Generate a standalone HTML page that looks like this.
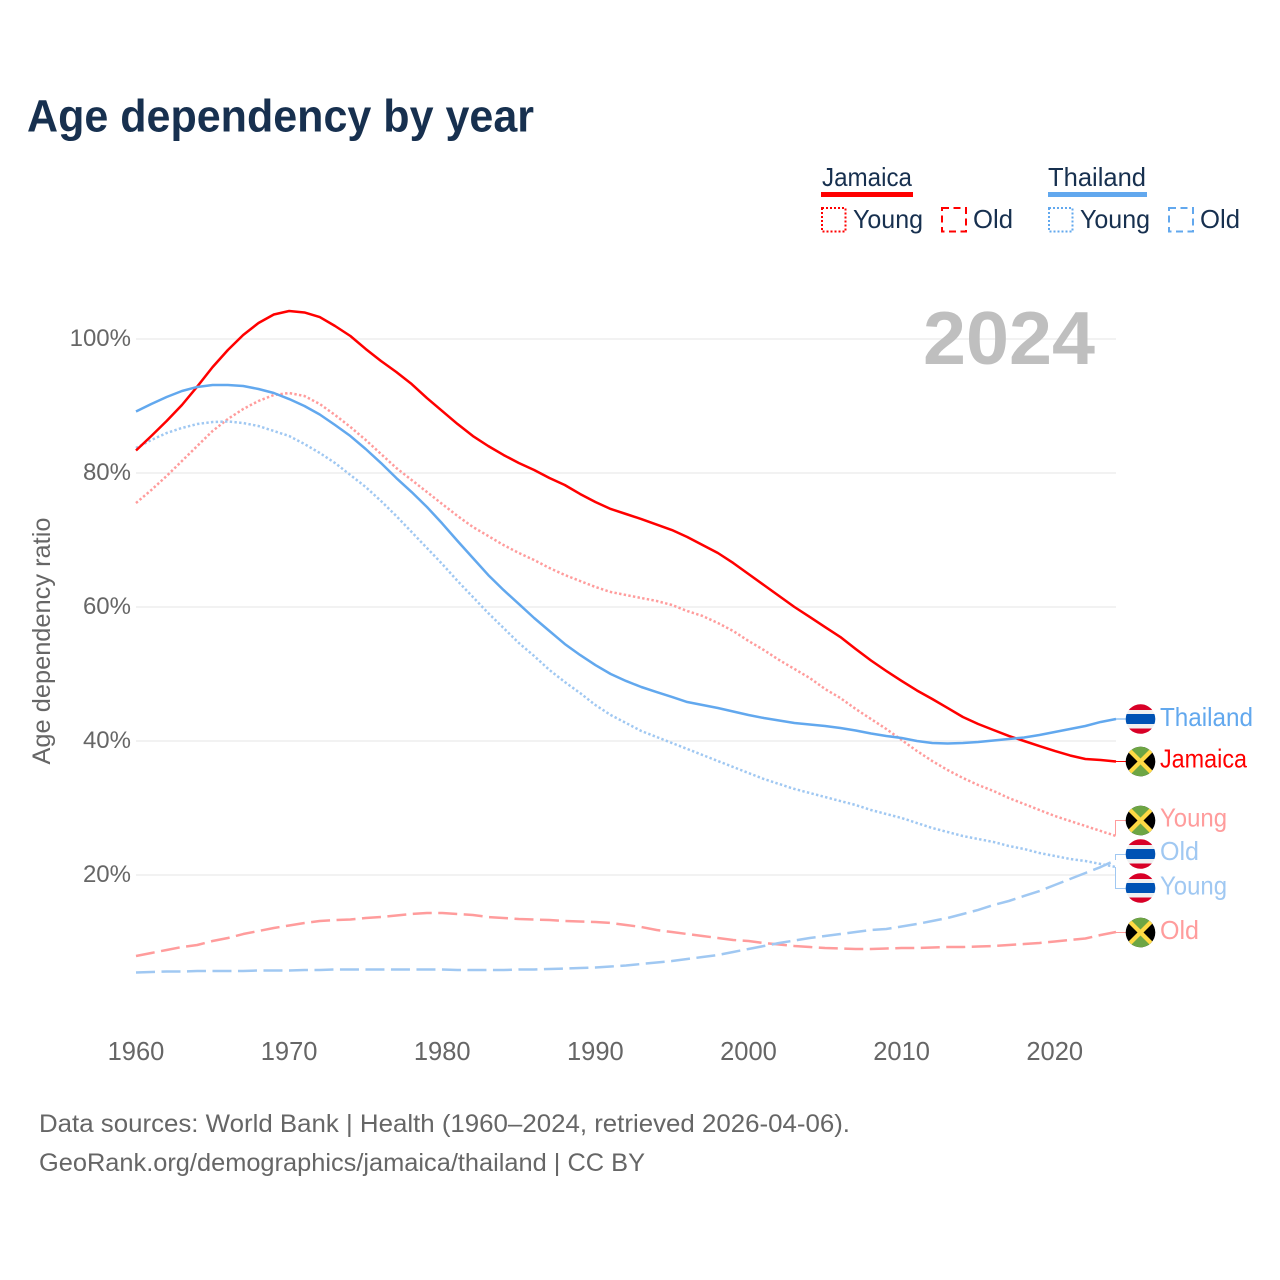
<!DOCTYPE html>
<html lang="en">
<head>
<meta charset="utf-8">
<title>Age dependency by year</title>
<style>
html,body{margin:0;padding:0;background:#fff;width:1280px;height:1280px;overflow:hidden}
svg{display:block}
text{font-family:"Liberation Sans",sans-serif}
</style>
</head>
<body>
<svg id="chart" xmlns="http://www.w3.org/2000/svg" width="1280" height="1280" viewBox="0 0 1280 1280">
  <rect width="1280" height="1280" fill="#fff"/>
  <text x="27" y="131.5" font-size="45" font-weight="700" fill="#17304f" textLength="507" lengthAdjust="spacingAndGlyphs">Age dependency by year</text>

  <g font-size="26" fill="#17304f">
    <text x="822" y="186" textLength="90" lengthAdjust="spacingAndGlyphs">Jamaica</text>
    <rect x="821" y="192" width="92" height="5" fill="#ff0000"/>
    <rect x="822" y="208" width="23.5" height="23.5" fill="none" stroke="#ff0000" stroke-width="2" stroke-dasharray="2 2"/>
    <text x="853" y="228" textLength="70" lengthAdjust="spacingAndGlyphs">Young</text>
    <rect x="942" y="208" width="24" height="23.5" fill="none" stroke="#ff0000" stroke-width="2" stroke-dasharray="7 4.5"/>
    <text x="973" y="228" textLength="40" lengthAdjust="spacingAndGlyphs">Old</text>
    <text x="1048" y="186" textLength="98" lengthAdjust="spacingAndGlyphs">Thailand</text>
    <rect x="1048" y="192" width="99" height="5" fill="#62a8ee"/>
    <rect x="1049" y="208" width="23.5" height="23.5" fill="none" stroke="#62a8ee" stroke-width="2" stroke-dasharray="2 2"/>
    <text x="1080" y="228" textLength="70" lengthAdjust="spacingAndGlyphs">Young</text>
    <rect x="1169" y="208" width="24" height="23.5" fill="none" stroke="#62a8ee" stroke-width="2" stroke-dasharray="7 4.5"/>
    <text x="1200" y="228" textLength="40" lengthAdjust="spacingAndGlyphs">Old</text>
  </g>

  <g id="grid"></g>
  <g id="yticks"></g>
  <g id="xticks"></g>
  <text transform="translate(50 641) rotate(-90)" text-anchor="middle" font-size="25" fill="#666" textLength="247" lengthAdjust="spacingAndGlyphs">Age dependency ratio</text>
  <text x="923" y="364" font-size="75" font-weight="700" fill="#bfbfbf" textLength="172" lengthAdjust="spacingAndGlyphs">2024</text>

  <g id="series"></g>

  <g fill="none" stroke-width="1">
    <path d="M1116 719H1126" stroke="#62a8ee"/>
    <path d="M1116 761.5H1126" stroke="#ff0000"/>
    <path d="M1114.5 836L1115.5 835V820.5H1126" stroke="#ff9c9c"/>
    <path d="M1115.5 860V854.5H1126" stroke="#a0c8f2"/>
    <path d="M1115.5 867V888.5H1126" stroke="#a0c8f2"/>
    <path d="M1116 932.5H1126" stroke="#ff9c9c"/>
  </g>

  <defs>
    <clipPath id="flagClip"><circle cx="0" cy="0" r="14.8"/></clipPath>
    <g id="flag-th" clip-path="url(#flagClip)">
      <rect x="-15" y="-15" width="30" height="30" fill="#f0f0f0"/>
      <rect x="-15" y="-15" width="30" height="6" fill="#d80027"/>
      <rect x="-15" y="9.5" width="30" height="6" fill="#d80027"/>
      <rect x="-15" y="-5" width="30" height="10" fill="#0052b4"/>
    </g>
    <g id="flag-jm" clip-path="url(#flagClip)">
      <rect x="-15" y="-15" width="30" height="30" fill="#000"/>
      <polygon points="-15,-15 15,-15 0,0" fill="#6da544"/>
      <polygon points="-15,15 15,15 0,0" fill="#6da544"/>
      <path d="M-11 -11L11 11M11 -11L-11 11" stroke="#ffda44" stroke-width="4.2"/>
    </g>
  </defs>
  <g>
    <use href="#flag-th" x="1140.5" y="719"/>
    <use href="#flag-jm" x="1140.5" y="761.5"/>
    <use href="#flag-jm" x="1140.5" y="820.5"/>
    <use href="#flag-th" x="1140.5" y="854"/>
    <use href="#flag-th" x="1140.5" y="888"/>
    <use href="#flag-jm" x="1140.5" y="932.5"/>
  </g>
  <g font-size="26">
    <text x="1160" y="726" fill="#62a8ee" textLength="93" lengthAdjust="spacingAndGlyphs">Thailand</text>
    <text x="1160" y="767.5" fill="#ff0000" textLength="87" lengthAdjust="spacingAndGlyphs">Jamaica</text>
    <text x="1160" y="826.5" fill="#ff9c9c" textLength="67" lengthAdjust="spacingAndGlyphs">Young</text>
    <text x="1160" y="860" fill="#a0c8f2" textLength="39" lengthAdjust="spacingAndGlyphs">Old</text>
    <text x="1160" y="894.5" fill="#a0c8f2" textLength="67" lengthAdjust="spacingAndGlyphs">Young</text>
    <text x="1160" y="939" fill="#ff9c9c" textLength="39" lengthAdjust="spacingAndGlyphs">Old</text>
  </g>

  <text x="39" y="1132" font-size="25" fill="#666" textLength="811" lengthAdjust="spacingAndGlyphs">Data sources: World Bank | Health (1960–2024, retrieved 2026-04-06).</text>
  <text x="39" y="1171" font-size="25" fill="#666" textLength="606" lengthAdjust="spacingAndGlyphs">GeoRank.org/demographics/jamaica/thailand | CC BY</text>
</svg>
<script>
const startYear = 1960;
const endYear = 2024;
const xTickLabels = [1960, 1970, 1980, 1990, 2000, 2010, 2020];
const yTickLabels = [20, 40, 60, 80, 100];

const jamaicaTotal = [83.36,85.52,87.76,90.15,92.9,95.8,98.36,100.6,102.39,103.66,104.18,103.96,103.28,101.94,100.45,98.51,96.72,95.07,93.28,91.19,89.25,87.31,85.52,84.03,82.69,81.49,80.45,79.25,78.21,76.87,75.67,74.63,73.88,73.13,72.31,71.49,70.45,69.25,68.06,66.57,64.93,63.28,61.64,60.0,58.51,57.01,55.52,53.73,52.01,50.45,48.96,47.54,46.27,44.93,43.58,42.54,41.64,40.75,40.0,39.25,38.51,37.84,37.31,37.16,36.94];
const thailandTotal = [89.18,90.3,91.34,92.24,92.84,93.13,93.13,92.99,92.54,91.94,91.04,90.0,88.73,87.16,85.52,83.58,81.49,79.25,77.16,74.93,72.46,69.85,67.31,64.78,62.54,60.45,58.36,56.42,54.48,52.84,51.34,50.0,48.96,48.06,47.31,46.57,45.82,45.37,44.93,44.4,43.88,43.43,43.06,42.69,42.46,42.24,41.94,41.57,41.12,40.75,40.45,40.0,39.7,39.63,39.7,39.85,40.07,40.3,40.52,40.9,41.34,41.79,42.24,42.84,43.28];
const jamaicaYoung = [75.52,77.46,79.55,81.79,84.03,86.27,88.06,89.55,90.75,91.64,91.94,91.49,90.3,88.66,86.87,84.93,82.84,80.75,78.96,77.16,75.37,73.58,71.94,70.6,69.25,68.06,67.01,65.82,64.78,63.88,62.99,62.24,61.79,61.34,60.9,60.3,59.4,58.66,57.61,56.42,54.93,53.58,52.09,50.75,49.4,47.76,46.42,44.78,43.28,41.79,40.15,38.51,37.01,35.67,34.48,33.43,32.54,31.49,30.6,29.7,28.81,28.06,27.31,26.57,25.82];
const thailandYoung = [83.73,84.93,85.97,86.72,87.31,87.61,87.69,87.46,87.01,86.27,85.52,84.33,82.99,81.49,79.7,77.91,75.82,73.58,71.19,68.81,66.42,63.88,61.49,59.1,56.87,54.63,52.69,50.6,48.81,47.16,45.37,43.88,42.69,41.49,40.6,39.7,38.81,37.91,37.01,36.12,35.22,34.33,33.58,32.84,32.24,31.64,31.04,30.45,29.7,29.1,28.51,27.76,27.01,26.42,25.82,25.37,24.93,24.33,23.88,23.28,22.84,22.39,22.09,21.64,21.19];
const jamaicaOld = [7.91,8.36,8.81,9.25,9.55,10.15,10.6,11.19,11.64,12.09,12.46,12.84,13.13,13.28,13.36,13.58,13.73,13.96,14.18,14.33,14.33,14.18,14.03,13.73,13.58,13.43,13.36,13.28,13.13,13.06,12.99,12.84,12.54,12.24,11.79,11.49,11.19,10.9,10.6,10.3,10.15,9.85,9.63,9.4,9.25,9.1,9.03,8.96,8.96,9.03,9.1,9.1,9.18,9.25,9.25,9.33,9.4,9.55,9.7,9.85,10.07,10.3,10.52,11.04,11.49];
const thailandOld = [5.45,5.52,5.6,5.6,5.67,5.67,5.67,5.67,5.75,5.75,5.75,5.82,5.82,5.9,5.9,5.9,5.9,5.9,5.9,5.9,5.9,5.82,5.82,5.82,5.82,5.9,5.9,5.97,6.04,6.12,6.19,6.34,6.49,6.72,6.94,7.16,7.46,7.76,8.06,8.51,8.96,9.4,9.85,10.22,10.6,10.9,11.19,11.49,11.79,11.94,12.31,12.69,13.13,13.58,14.18,14.78,15.52,16.12,16.87,17.61,18.51,19.4,20.3,21.19,22.24];

const SVG_NS = 'http://www.w3.org/2000/svg';
const xLeft = 136, xRight = 1116;
function xScale(year) { return xLeft + (year - startYear) * (xRight - xLeft) / (endYear - startYear); }
function yScale(v) { return 1009 - 6.7 * v; }

const gridGroup = document.getElementById('grid');
const yTickGroup = document.getElementById('yticks');
const xTickGroup = document.getElementById('xticks');
const seriesGroup = document.getElementById('series');

yTickLabels.forEach(function (v) {
  const line = document.createElementNS(SVG_NS, 'line');
  line.setAttribute('x1', xLeft);
  line.setAttribute('x2', xRight);
  line.setAttribute('y1', yScale(v));
  line.setAttribute('y2', yScale(v));
  line.setAttribute('stroke', '#eeeeee');
  line.setAttribute('stroke-width', '1.5');
  
  
  gridGroup.appendChild(line);
  const label = document.createElementNS(SVG_NS, 'text');
  label.setAttribute('x', 131);
  label.setAttribute('y', yScale(v) + 7);
  label.setAttribute('text-anchor', 'end');
  label.setAttribute('font-size', '24');
  label.setAttribute('fill', '#666666');
  
  
  label.textContent = v + '%';
  yTickGroup.appendChild(label);
});

xTickLabels.forEach(function (year) {
  const label = document.createElementNS(SVG_NS, 'text');
  label.setAttribute('x', xScale(year));
  label.setAttribute('y', 1060);
  label.setAttribute('text-anchor', 'middle');
  label.setAttribute('font-size', '25.5');
  label.setAttribute('fill', '#666666');
  
  
  label.textContent = year;
  xTickGroup.appendChild(label);
});

function drawLine(values, color, dash, name) {
  const path = document.createElementNS(SVG_NS, 'path');
  const d = values.map(function (v, i) {
    return (i ? 'L' : 'M') + xScale(startYear + i).toFixed(2) + ' ' + yScale(v).toFixed(2);
  }).join('');
  path.setAttribute('d', d);
  path.setAttribute('fill', 'none');
  path.setAttribute('stroke', color);
  path.setAttribute('stroke-width', '2.5');
  path.setAttribute('stroke-linejoin', 'round');
  if (dash) path.setAttribute('stroke-dasharray', dash);
  
  
  seriesGroup.appendChild(path);
}

const dotted = '2.4 2.3';
const dashed = '19 6.5';
drawLine(jamaicaOld, '#ff9c9c', dashed, 'line-jamaica-old');
drawLine(thailandOld, '#a0c8f2', dashed, 'line-thailand-old');
drawLine(jamaicaYoung, '#ff9c9c', dotted, 'line-jamaica-young');
drawLine(thailandYoung, '#a0c8f2', dotted, 'line-thailand-young');
drawLine(jamaicaTotal, '#ff0000', null, 'line-jamaica-total');
drawLine(thailandTotal, '#62a8ee', null, 'line-thailand-total');
</script>
</body>
</html>
